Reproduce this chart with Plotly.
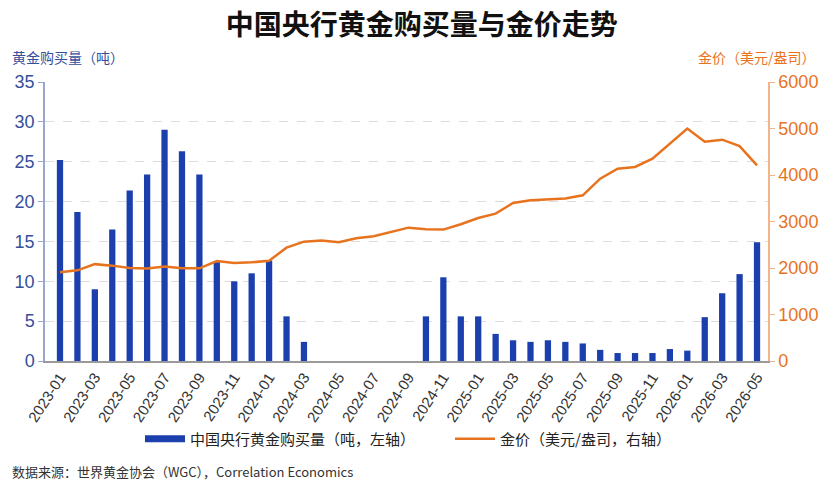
import plotly.graph_objects as go

months = [f"{y}-{m:02d}" for y in (2023, 2024, 2025, 2026) for m in range(1, 13)][:41]

purchases = [25.2, 18.7, 9.0, 16.5, 21.4, 23.4, 29.0, 26.3, 23.4, 12.4, 10.0, 11.0,
             12.6, 5.6, 2.4, 0, 0, 0, 0, 0, 0, 5.6, 10.5, 5.6,
             5.6, 3.4, 2.6, 2.4, 2.6, 2.4, 2.2, 1.4, 1.0, 1.0, 1.0, 1.5,
             1.3, 5.5, 8.5, 10.9, 14.9]

gold_price = [1910, 1950, 2083, 2051, 2000, 1987, 2030, 1994, 1994, 2151, 2108, 2122,
              2155, 2438, 2567, 2589, 2553, 2639, 2682, 2774, 2868, 2832, 2826, 2940,
              3075, 3169, 3398, 3456, 3478, 3495, 3563, 3921, 4136, 4172, 4352, 4674,
              5000, 4717, 4760, 4620, 4208]

tick_labels = months[::2]

BAR_NAME = "中国央行黄金购买量（吨，左轴）"
LINE_NAME = "金价（美元/盎司，右轴）"

BLUE = "#1c3fae"
ORANGE = "#e8731e"
AXIS_BLUE = "#34509c"
FONT = "Liberation Sans, Noto Sans CJK SC, sans-serif"
CJK = "Noto Sans CJK SC, sans-serif"

fig = go.Figure()
fig.add_trace(go.Bar(
    x=months, y=purchases, name=BAR_NAME, showlegend=False,
    marker=dict(color=BLUE, line=dict(width=0)), yaxis="y",
))
# legend proxy so the bar key shows as a wide flat rectangle like the original
fig.add_trace(go.Scatter(
    x=[None], y=[None], name=BAR_NAME, mode="lines",
    line=dict(color=BLUE, width=7), yaxis="y", hoverinfo="skip",
))
fig.add_trace(go.Scatter(
    x=months, y=gold_price, name=LINE_NAME, mode="lines",
    line=dict(color=ORANGE, width=2.5), yaxis="y2",
))

fig.update_layout(
    width=830, height=490,
    margin=dict(l=45, r=62, t=82, b=129),
    paper_bgcolor="white", plot_bgcolor="white",
    bargap=0.64,
    font=dict(family=FONT, color="#333"),
    title=dict(text="中国央行黄金购买量与金价走势", x=0.508, xanchor="center",
               y=1 - 25 / 490, yanchor="middle",
               font=dict(family=CJK, size=28, color="#111", weight="bold")),
    xaxis=dict(type="category", range=[-0.86, 40.63], tickmode="array",
               tickvals=tick_labels, ticktext=tick_labels, tickangle=-57,
               tickfont=dict(size=15, color="#333", family=FONT),
               showline=True, linecolor="#9a9a9a", linewidth=1.5,
               showgrid=False, ticks="", zeroline=False),
    yaxis=dict(range=[0, 35], dtick=5, tickfont=dict(size=18, color=AXIS_BLUE, family=FONT),
               showline=True, linecolor="#9aa6cc", linewidth=1.5,
               ticks="outside", ticklen=5, tickcolor="#9aa6cc",
               showgrid=True, gridcolor="#dcdcdc", griddash="dash", gridwidth=1,
               zeroline=False),
    yaxis2=dict(range=[0, 6000], dtick=1000, overlaying="y", side="right",
                tickfont=dict(size=18, color=ORANGE, family=FONT),
                showline=True, linecolor="#f2b48a", linewidth=1.5,
                ticks="outside", ticklen=5, tickcolor="#f2b48a",
                showgrid=False, zeroline=False),
    legend=dict(orientation="h", x=(140 - 45) / 723, xanchor="left", y=-0.28, yanchor="middle",
                font=dict(family=CJK, size=15, color="#222"), itemwidth=40,
                entrywidth=255,
                traceorder="normal", bgcolor="rgba(0,0,0,0)"),
    annotations=[
        dict(text="黄金购买量（吨）", xref="paper", yref="paper",
             x=-0.048, y=1 + 25 / 279, xanchor="left", yanchor="middle",
             showarrow=False, font=dict(family=CJK, size=14, color=AXIS_BLUE)),
        dict(text="金价（美元/盎司）", xref="paper", yref="paper",
             x=1 + 50 / 723, y=1 + 25 / 279, xanchor="right", yanchor="middle",
             showarrow=False, font=dict(family=CJK, size=14, color=ORANGE)),
        dict(text="数据来源：世界黄金协会（WGC），Correlation Economics", xref="paper", yref="paper",
             x=-0.048, y=-110 / 279, xanchor="left", yanchor="middle",
             showarrow=False, font=dict(family=CJK, size=13, color="#333")),
    ],
)

fig.write_html("out.html")
